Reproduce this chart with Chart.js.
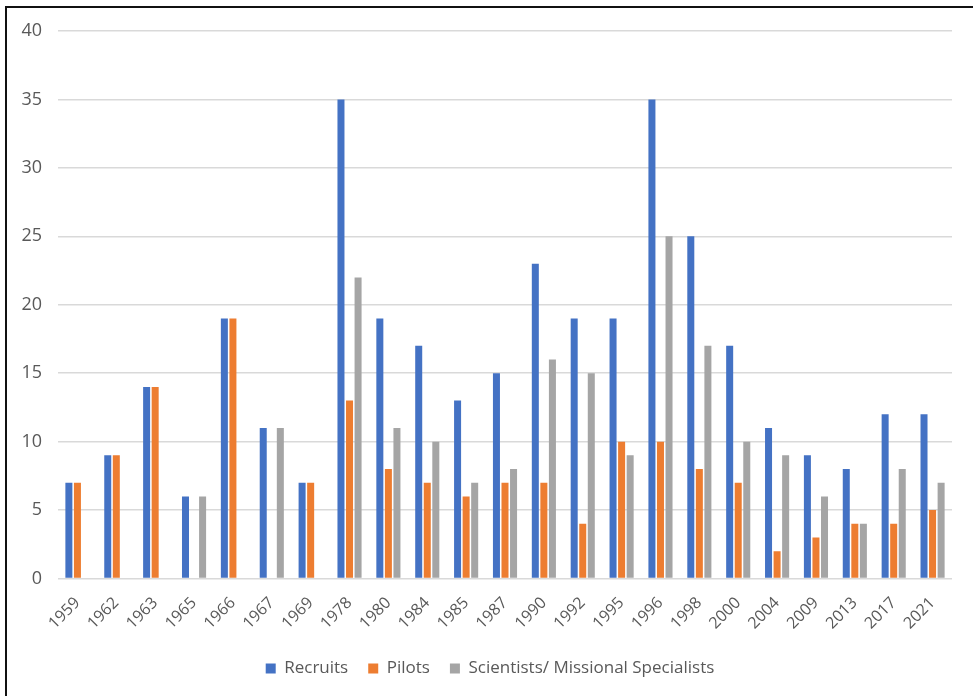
<!DOCTYPE html>
<html>
<head>
<meta charset="utf-8">
<script src="https://cdn.jsdelivr.net/npm/chart.js@4/dist/chart.umd.min.js"></script>
<style>
  html, body { margin: 0; padding: 0; background: #fff; overflow: hidden; }
  #wrap { position: relative; width: 973px; height: 696px; }
  #frame { position: absolute; left: 5px; top: 6px; width: 990px; height: 710px;
           border-left: 2px solid #111; border-top: 2px solid #111; box-sizing: border-box; }
  canvas { position: absolute; left: 0; top: 0; }
</style>
</head>
<body>
<div id="wrap">
  <div id="frame"></div>
  <canvas id="c" width="973" height="696"></canvas>
</div>
<script>
// Intake years
const years = ['1959','1962','1963','1965','1966','1967','1969','1978','1980','1984','1985','1987',
               '1990','1992','1995','1996','1998','2000','2004','2009','2013','2017','2021'];

// Number of people per intake group
const recruits   = [7, 9, 14, 6, 19, 11, 7, 35, 19, 17, 13, 15, 23, 19, 19, 35, 25, 17, 11, 9, 8, 12, 12];
const pilots     = [7, 9, 14, null, 19, null, 7, 13, 8, 7, 6, 7, 7, 4, 10, 10, 8, 7, 2, 3, 4, 4, 5];
const scientists = [null, null, null, 6, null, 11, null, 22, 11, 10, 7, 8, 16, 15, 9, 25, 17, 10, 9, 6, 4, 8, 7];

const yTicks = [0, 5, 10, 15, 20, 25, 30, 35, 40];

const FONT = '"Open Sans", sans-serif';
const TEXT = '#595959';

// Nudge the legend so it sits centred under the plot area
const legendShift = {
  id: 'legendShift',
  afterLayout(chart) {
    const lg = chart.legend;
    if (!lg) return;
    const dx = 10;
    lg.left += dx;
    lg.right += dx;
    if (lg.legendHitBoxes) lg.legendHitBoxes.forEach(b => { b.left += dx; });
  }
};

new Chart(document.getElementById('c'), {
  type: 'bar',
  data: {
    labels: years,
    datasets: [
      { label: 'Recruits', data: recruits, backgroundColor: '#4472C4' },
      { label: 'Pilots', data: pilots, backgroundColor: '#ED7D31' },
      { label: 'Scientists/ Missional Specialists', data: scientists, backgroundColor: '#A5A5A5' }
    ]
  },
  plugins: [legendShift],
  options: {
    responsive: false,
    devicePixelRatio: 1,
    animation: false,
    datasets: { bar: { categoryPercentage: 0.66, barPercentage: 0.82 } },
    layout: { padding: { left: 8, right: 21, top: 31, bottom: 9 } },
    scales: {
      x: {
        grid: { display: false },
        border: { display: false },
        ticks: { color: TEXT, font: { family: FONT, size: 16 }, minRotation: 45, maxRotation: 45, padding: 7 }
      },
      y: {
        min: 0, max: 40,
        afterBuildTicks: (s) => { s.ticks = yTicks.map(v => ({ value: v })); },
        afterFit: (s) => { s.width = 50; },
        grid: { color: '#d9d9d9', lineWidth: 1.5, drawTicks: false },
        border: { display: false },
        ticks: { color: TEXT, font: { family: FONT, size: 18 }, padding: 16 }
      }
    },
    plugins: {
      tooltip: { enabled: false },
      legend: {
        position: 'bottom',
        labels: { color: TEXT, font: { family: FONT, size: 17 }, boxWidth: 10, boxHeight: 10, padding: 20 }
      }
    }
  }
});
</script>
</body>
</html>
